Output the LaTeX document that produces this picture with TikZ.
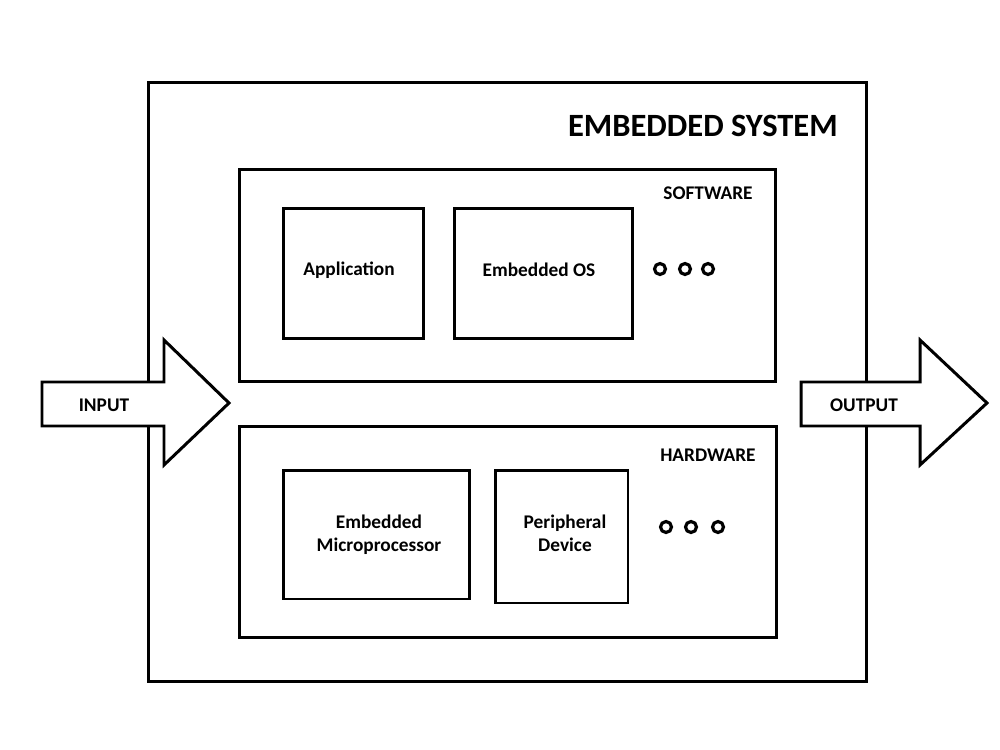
\documentclass[tikz,border=0pt]{standalone}
\usepackage{fontspec}
\setmainfont{Carlito}
\usetikzlibrary{positioning}

\tikzset{
    box/.style={draw, line width=1.7pt, rectangle, inner sep=0pt, align=center,
        font=\fontsize{11}{13}\selectfont\bfseries},
    lbl/.style={font=\fontsize{11}{13}\selectfont\bfseries, inner sep=0pt},
    dot/.style={draw, circle, line width=1.8pt, minimum size=0.22cm, inner sep=0pt},
    arrowshape/.style={draw, fill=white, line width=1.7pt, line join=miter}
}

\begin{document}
\begin{tikzpicture}[x=0.02cm, y=-0.02cm]
    \useasboundingbox (0,0) rectangle (1000,750);

    % Outer box and title
    \node[box, minimum width=14.38cm, minimum height=12cm] (sys) at (507.5,382) {};
    \node[anchor=east, inner sep=0pt, font=\fontsize{18.5}{22}\selectfont\bfseries] (title) at (838,126) {EMBEDDED SYSTEM};

    % Software layer
    \node[box, minimum width=10.74cm, minimum height=4.26cm] (sw) at (507.5,275.5) {};
    \node[lbl, anchor=east] (swlbl) at (753,193) {SOFTWARE};
    \node[box, minimum width=2.82cm, minimum height=2.62cm] (app) at (353.5,273.5) {};
    \node[lbl] (applbl) at (349,270) {Application};
    \node[box, minimum width=3.58cm, minimum height=2.62cm] (os) at (543.5,273.5) {};
    \node[lbl] (oslbl) at (539,270) {Embedded OS};
    \foreach \x/\n in {660/1,685/2,708/3} \node[dot] (swdot\n) at (\x,269) {};

    % Hardware layer
    \node[box, minimum width=10.76cm, minimum height=4.24cm] (hw) at (508,532) {};
    \node[lbl, anchor=east] (hwlbl) at (756,455) {HARDWARE};
    \node[box, minimum width=3.74cm, minimum height=2.58cm] (cpu) at (376.5,534.5) {};
    \node[lbl, align=center] (cpulbl) at (379,535) {Embedded\\Microprocessor};
    \node[box, minimum width=2.66cm, minimum height=2.66cm] (dev) at (561.5,536.5) {};
    \node[lbl, align=center] (devlbl) at (565,533) {Peripheral\\Device};
    \foreach \x/\n in {666/1,691/2,718/3} \node[dot] (hwdot\n) at (\x,527) {};

    % Input and output arrows
    \draw[arrowshape] (42,382) -- (164,382) -- (164,340) -- (229,403) -- (164,465) -- (164,426) -- (42,426) -- cycle;
    \node[lbl] (in) at (104,405) {INPUT};
    \draw[arrowshape] (801,382) -- (920,382) -- (920,340) -- (987,403) -- (920,465) -- (920,426) -- (801,426) -- cycle;
    \node[lbl] (out) at (864,405) {OUTPUT};
\end{tikzpicture}
\end{document}
